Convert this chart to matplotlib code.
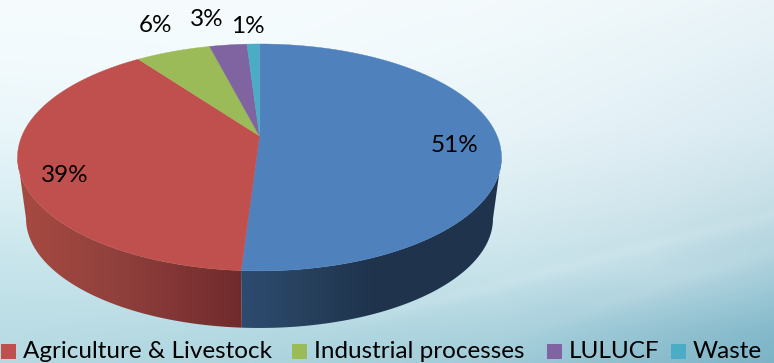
import numpy as np
import matplotlib
matplotlib.use("Agg")
import matplotlib.pyplot as plt
from matplotlib.patches import Polygon, Rectangle
from matplotlib.colors import to_rgb

# Chart data
slice_values = [51, 39, 6, 3, 1]
slice_labels = ["51%", "39%", "6%", "3%", "1%"]
slice_colors = ["#4F81BD", "#C0504D", "#9BBB59", "#8064A2", "#4BACC6"]
legend_names = ["Agriculture & Livestock", "Industrial processes", "LULUCF", "Waste"]
legend_colors = ["#C0504D", "#9BBB59", "#8064A2", "#4BACC6"]

W, H = 774, 363
fig = plt.figure(figsize=(W / 100, H / 100), dpi=100)
ax = fig.add_axes([0, 0, 1, 1])
ax.set_axis_off()


def backdrop():
    """Pale slide background with two soft swooshes in the lower right."""
    xs = np.array([0, 250, 500, 650, 774])
    ys = np.array([0, 60, 130, 200, 270, 330, 363])
    grid = ["F6FCFE F6FCFE F4FAFC EFF7FA EAF4F8",
            "F2FAFD F4FBFD EEF8FB E8F4F8 E2F0F5",
            "E9F6FA EEF8FB E8F4F8 E1EFF5 D9EAF1",
            "D8EEF3 DDF0F5 DAEDF2 D2E6ED C6DFE7",
            "C6E4EB CCE6EC C8E3EA BFDCE5 A9CFDB",
            "BBDDE5 B6DAE3 ACD3DE 96C4D3 84BACB",
            "B6D9E2 AED5DF 9FCBD8 8BBDCE 7CB3C6"]
    ctrl = np.array([[to_rgb("#" + c) for c in row.split()] for row in grid])
    X, Y = np.meshgrid(np.arange(W) + 0.5, np.arange(H) + 0.5)
    img = np.empty((H, W, 3))
    for c in range(3):
        rows = np.array([np.interp(X[0], xs, ctrl[j, :, c]) for j in range(len(ys))])
        img[:, :, c] = np.array([np.interp(Y[:, 0], ys, rows[:, i]) for i in range(W)]).T
    # light streaks
    white = np.ones(3)
    for x0, y0, x1, y1, width, amount in [(300, 335, 774, 215, 7.0, 0.10),
                                          (480, 345, 774, 250, 9.0, 0.06)]:
        line = y0 + (X - x0) * (y1 - y0) / (x1 - x0)
        band = np.exp(-((Y - line) / width) ** 2) * np.clip((X - x0) / 120, 0, 1) * amount
        img = img * (1 - band[..., None]) + white * band[..., None]
    return img


ax.imshow(backdrop(), extent=(0, W, H, 0), aspect="auto", zorder=0)
ax.set_xlim(0, W)
ax.set_ylim(H, 0)

# Perspective projection of the unit disc onto the slide
CX, APEX_Y, RX, RY, TILT = 259.5, 136.0, 237.6, 109.4, 0.189
SHRINK, LOWER_APEX_Y = 0.965, 197.8


def project(theta, lower=False, r=1.0):
    x, y = r * np.sin(theta), r * np.cos(theta)
    d = 1 + TILT * y
    s = SHRINK if lower else 1.0
    cy = LOWER_APEX_Y if lower else APEX_Y
    return np.column_stack([CX + s * RX * x / d, cy - s * RY * y / d])


fractions = np.cumsum([0] + slice_values) / sum(slice_values)
angles = 2 * np.pi * fractions
tangent = np.pi / 2 + np.arcsin(TILT)


def gradient_wall(t0, t1, x_stops, colors):
    th = np.linspace(t0, t1, 120)
    poly = Polygon(np.vstack([project(th), project(th[::-1], lower=True)]),
                   closed=True, fc="none", ec="none", transform=ax.transData)
    ax.add_patch(poly)
    rgb = np.array([to_rgb(c) for c in colors])
    px = np.arange(W) + 0.5
    strip = np.stack([np.interp(px, x_stops, rgb[:, c]) for c in range(3)], axis=-1)
    im = ax.imshow(strip[None, :, :], extent=(0, W, H, 0), aspect="auto", zorder=2)
    im.set_clip_path(poly)


# Side walls of the two front slices
gradient_wall(tangent, angles[1], [242, 300, 370, 774],
              ["#2D4B70", "#28425F", "#1F344E", "#1F334C"])
gradient_wall(angles[1], 2 * np.pi - tangent, [20, 120, 190, 242],
              ["#A74A41", "#90403C", "#7E3333", "#702B2C"])

# Top faces
for start, stop, color in zip(angles[:-1], angles[1:], slice_colors):
    th = np.linspace(start, stop, max(4, int((stop - start) * 80)))
    pts = np.vstack([project(th), project(np.array([0.0]), r=0.0)])
    ax.add_patch(Polygon(pts, closed=True, fc=color, ec=color, lw=0.3, zorder=3))

# Slice percentages
label_font = dict(family="Lato", fontsize=17.5, color="black", ha="center",
                  va="center", zorder=5)
label_spots = [(454.5, 145), (65, 175), (155.5, 26), (207, 20), (248, 26.5)]
for text, (lx, ly) in zip(slice_labels, label_spots):
    ax.text(lx, ly, text, **label_font)

# Legend along the bottom edge
swatch_lefts = [1, 292, 547, 671]
text_lefts = [23, 314, 569, 693]
for name, color, sx, tx in zip(legend_names, legend_colors, swatch_lefts, text_lefts):
    ax.add_patch(Rectangle((sx, 344), 15, 15, fc=color, ec="none", zorder=5))
    ax.text(tx, 358, name, family="Lato", fontsize=17.5, color="black",
            ha="left", va="baseline", zorder=5)

fig.savefig("out.png", dpi=100)
